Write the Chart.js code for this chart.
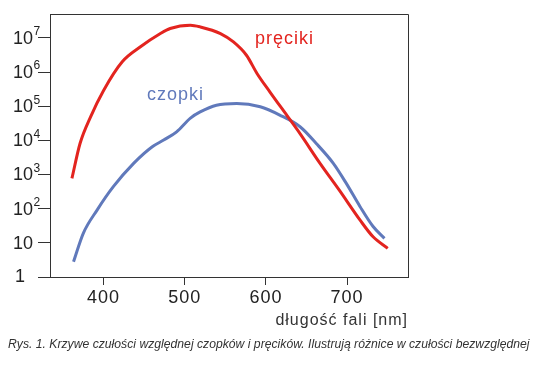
<!DOCTYPE html>
<html>
<head>
<meta charset="utf-8">
<script src="https://cdn.jsdelivr.net/npm/chart.js@4"></script>
<style>
  body { margin: 0; background: #fff; }
  #wrap { position: relative; width: 538px; height: 366px; }
  .lbl { position: absolute; font-family: 'Liberation Sans', Arial, sans-serif; font-size: 18px; letter-spacing: 1px; }
  #caption { position: absolute; left: 8px; top: 337px; font-family: 'Liberation Sans', Arial, sans-serif;
             font-style: italic; font-size: 12.2px; color: #333; white-space: nowrap; }
</style>
</head>
<body>
<div id="wrap">
  <canvas id="chart" width="538" height="366"></canvas>
  <div class="lbl" style="left:255px; top:28px; color:#e3241f;">pręciki</div>
  <div class="lbl" style="left:147px; top:84px; color:#6079bb;">czopki</div>
  <div id="caption">Rys. 1. Krzywe czułości względnej czopków i pręcików. Ilustrują różnice w czułości bezwzględnej</div>
</div>
<script>
// wavelength [nm] and relative sensitivity
const rodsNm  = [361, 371, 384, 400, 423, 445, 470, 482, 507, 519, 544, 560, 576, 589, 605, 626, 642, 666, 691, 716, 732, 750];
const rodsVal = [770, 8100, 4.9e4, 2.9e5, 2.0e6, 5.4e6, 1.34e7, 1.88e7, 2.35e7, 2.1e7, 1.34e7, 7.6e6, 3.1e6,
                 9.1e5, 2.6e5, 5.3e4, 1.57e4, 2230, 330, 46, 15, 6.9];

const conesNm  = [363, 375, 392, 412, 437, 460, 474, 490, 507, 519, 539, 564, 593, 617, 642, 662, 683, 699, 716, 732, 746];
const conesVal = [2.8, 19, 91, 440, 2120, 6500, 1.02e4, 1.78e4, 4.5e4, 6.8e4, 1.07e5, 1.2e5, 9.6e4, 5.5e4,
                  2.5e4, 8100, 2120, 550, 114, 30, 13.5];

const xTicks = [400, 500, 600, 700];
const yTicks = [1, 10, 1e2, 1e3, 1e4, 1e5, 1e6, 1e7];

const toPoints = (xs, ys) => xs.map((x, i) => ({ x: x, y: ys[i] }));

// box around the plot, letter spacing, and y labels written as 10 with a raised exponent
const framePlugin = {
    id: 'frame',
    beforeDraw(chart) {
        chart.ctx.letterSpacing = '1px';
    },
    afterDraw(chart) {
        const { ctx, chartArea: a } = chart;
        const y = chart.scales.y;
        ctx.save();
        ctx.strokeStyle = '#333';
        ctx.lineWidth = 1;
        ctx.beginPath();
        ctx.moveTo(a.left, a.top + 0.5);
        ctx.lineTo(a.right + 0.5, a.top + 0.5);
        ctx.lineTo(a.right + 0.5, a.bottom);
        ctx.stroke();

        ctx.letterSpacing = '0px';
        ctx.fillStyle = '#222';
        ctx.textBaseline = 'middle';
        yTicks.forEach(v => {
            const py = y.getPixelForValue(v);
            const e = Math.round(Math.log10(v));
            ctx.font = '18px "Liberation Sans", Arial, sans-serif';
            ctx.textAlign = 'right';
            if (e === 0) {
                ctx.fillText('1', 25, py);
                return;
            }
            ctx.fillText('10', 33, py + 1);
            if (e > 1) {
                ctx.font = '12px "Liberation Sans", Arial, sans-serif';
                ctx.textAlign = 'left';
                ctx.fillText(String(e), 33.5, py - 6);
            }
        });
        ctx.restore();
    }
};

new Chart(document.getElementById('chart'), {
    type: 'line',
    data: {
        datasets: [{
            label: 'pręciki',
            data: toPoints(rodsNm, rodsVal),
            borderColor: '#e3241f',
            borderWidth: 3,
            pointRadius: 0,
            cubicInterpolationMode: 'monotone',
            fill: false
        }, {
            label: 'czopki',
            data: toPoints(conesNm, conesVal),
            borderColor: '#6079bb',
            borderWidth: 3,
            pointRadius: 0,
            cubicInterpolationMode: 'monotone',
            fill: false
        }]
    },
    options: {
        responsive: false,
        animation: false,
        layout: { padding: { left: 0, top: 14, right: 130, bottom: 29 } },
        plugins: { legend: { display: false }, tooltip: { enabled: false } },
        scales: {
            x: {
                type: 'linear',
                min: 334,
                max: 775,
                afterBuildTicks: scale => { scale.ticks = xTicks.map(v => ({ value: v })); },
                afterFit: scale => { scale.height = 60; },
                grid: { drawOnChartArea: false, tickLength: 8, color: '#333' },
                border: { color: '#333' },
                ticks: { color: '#222', padding: 2, font: { family: 'Liberation Sans', size: 18 } },
                title: {
                    display: true,
                    text: 'długość fali [nm]',
                    align: 'end',
                    color: '#333',
                    font: { family: 'Liberation Sans', size: 16 },
                    padding: { top: 0, bottom: 7 }
                }
            },
            y: {
                type: 'logarithmic',
                min: 1,
                max: 5e7,
                afterBuildTicks: scale => { scale.ticks = yTicks.map(v => ({ value: v })); },
                afterFit: scale => { scale.width = 50; },
                grid: { drawOnChartArea: false, tickLength: 12, color: '#333' },
                border: { color: '#333' },
                ticks: { display: false }
            }
        }
    },
    plugins: [framePlugin]
});
</script>
</body>
</html>
